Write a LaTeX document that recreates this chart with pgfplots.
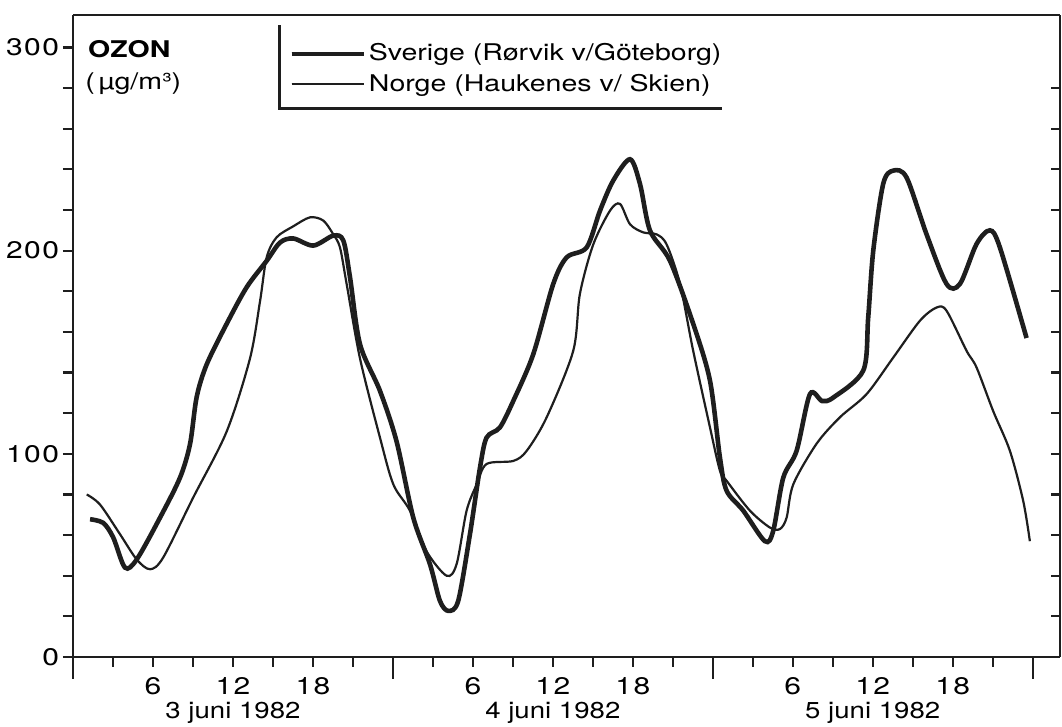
\documentclass[border=0pt]{standalone}
\usepackage{fontspec}
\setmainfont{TeX Gyre Heros}[FakeStretch=1.2]
\newfontfamily\tickfont{TeX Gyre Heros}[FakeStretch=1.25, LetterSpace=6]
\newfontfamily\legfont{TeX Gyre Heros}[FakeStretch=1.24]
\usepackage{pgfplots}
\pgfplotsset{compat=1.18}
\definecolor{ink}{RGB}{30,30,30}

\pgfplotstableread{
h    o3
1.28 67.8
2.27 66
3.02 58.8
3.9  44
4.78 48
6.53 68.6
8.03 88.3
8.78 104.8
9.28 128
10.03 144
11.53 164
13.03 182
14.53 195
15.53 204
16.53 206
18.03 202.5
19.53 207.4
20.28 205
20.78 187
21.53 154
23.03 131
24.28 106
25.53 68.6
26.78 45.7
27.53 27.6
28.16 22.7
28.9 27.6
29.78 60.4
30.53 93
31.03 108
32.03 113
33.03 126
34.53 149
36.03 183.6
37.04 196.7
38.54 201.6
39.54 219.7
40.53 234.5
41.79 245
42.54 232.8
43.29 209.9
44.79 195
46.53 164
47.79 136
48.54 98
49.04 81.8
50.29 72
51.91 57
52.53 62
53.29 88.3
54.29 101.5
55.29 129.4
56.2 126
57.04 127.7
59.29 141
59.66 167
60.04 200
60.79 233
61.54 239.4
62.54 236
64.04 208
65.54 183.6
66.54 183.6
67.79 203.3
68.79 210
69.54 201.6
71.54 157
}\sverige

\pgfplotstableread{
h    o3
1.03 80
2.03 75
3.53 60.4
4.78 48
5.78 43.2
6.77 49
9.02 78.5
11.53 111
13.28 147
14.03 175
14.53 196.7
15.28 206.6
16.53 212
17.78 216.4
18.78 214.8
19.53 208
20.03 201.6
20.53 183.6
21.53 147
23.03 108
24.03 85
25.28 72
26.53 52
28.03 40
28.78 45.7
29.53 72
30.29 85
31.03 95
33.03 96.5
34.04 101.5
35.54 118
37.53 150.7
38.03 178.7
39.03 203
40.29 219.7
41.04 223
41.79 213
42.78 209
43.79 208
44.54 203
45.54 183.6
46.53 150.7
47.79 113
48.54 91.6
49.04 86.7
50.79 72
52.29 63.7
53.04 63
53.54 68.6
54.04 85
55.79 105
57.54 118
59.54 129.4
61.54 147.4
63.54 165.5
64.79 172
65.54 170.4
67.04 150.7
67.79 142.5
69.04 121
70.29 101.5
71.29 76.8
71.79 57
}\norge

\begin{document}
\begin{tikzpicture}[font=\fontsize{11.5}{13}\selectfont]
\begin{axis}[
    name=main,
    scale only axis,
    width=493.5pt, height=321pt,
    xmin=0, xmax=74.05, ymin=0, ymax=316,
    axis x line*=bottom, axis y line*=left,
    axis line style={line width=1.3pt, ink, -},
    tick style={line width=1.1pt, ink},
    tick align=outside,
    major tick length=5pt,
    clip=false,
    /pgf/number format/assume math mode=true,
    ytick={0,20,...,300},
    yticklabels={0,,,,,100,,,,,200,,,,,300},
    yticklabel style={font=\tickfont\fontsize{12}{13}\selectfont, xshift=1.5pt},
    xtick={3,6,9,12,15,18,21,27,30,33,36,39,42,45,51,54,57,60,63,66,69},
    xticklabels={,6,,12,,18,,,6,,12,,18,,,6,,12,,18,},
    xticklabel style={font=\tickfont\fontsize{12}{13}\selectfont, yshift=-1.5pt},
    extra x ticks={0,24,48,72},
    extra x tick labels={},
    extra x tick style={major tick length=11pt},
    legend cell align=left,
    legend image code/.code={\draw[#1] (0pt,0pt) -- (30pt,0pt); \path (0pt,0pt) -- (36pt,0pt);},
    legend style={at={(axis cs:16.2,303.5)}, anchor=north west, draw=none,
        fill=none, row sep=2pt, inner sep=0pt,
        font=\legfont\fontsize{11.5}{13}\selectfont,
        nodes={inner sep=1.5pt}},
]
\addplot[ink, line width=2.3pt, smooth, tension=0.5] table[x=h, y=o3] {\sverige};
\addplot[ink, line width=1.1pt, smooth, tension=0.5] table[x=h, y=o3] {\norge};
\legend{Sverige (Rørvik v/Göteborg), Norge (Haukenes v/ Skien)}

\draw[ink, line width=1.1pt] (axis cs:15.5,311) -- (axis cs:15.5,270) -- (axis cs:48.7,270);
\node[anchor=west, font=\legfont\fontsize{11.5}{13}\selectfont\bfseries] at (axis cs:0.6,299) {OZON};
\node[anchor=west, font=\legfont\fontsize{11.5}{13}\selectfont] at (axis cs:0.4,282) {(\,µg/m³)};

\node[anchor=base] at (axis cs:12,0) [yshift=-31pt] {3 juni 1982};
\node[anchor=base] at (axis cs:36,0) [yshift=-31pt] {4 juni 1982};
\node[anchor=base] at (axis cs:60,0) [yshift=-31pt] {5 juni 1982};
\end{axis}

\begin{axis}[
    scale only axis,
    width=493.5pt, height=321pt,
    xmin=0, xmax=74.05, ymin=0, ymax=316,
    axis x line=none, axis y line*=right,
    axis line style={line width=1.3pt, ink, -},
    tick style={line width=1.1pt, ink},
    tick align=inside,
    major tick length=4.5pt,
    ytick={20,40,...,280},
    yticklabels={},
]
\draw[ink, line width=1.3pt] (rel axis cs:0,1) -- (rel axis cs:1,1);
\end{axis}

\pgfresetboundingbox
\path ([shift={(-36.5pt,-35pt)}]main.south west) rectangle ([shift={(1pt,7.5pt)}]main.north east);
\end{tikzpicture}
\end{document}
